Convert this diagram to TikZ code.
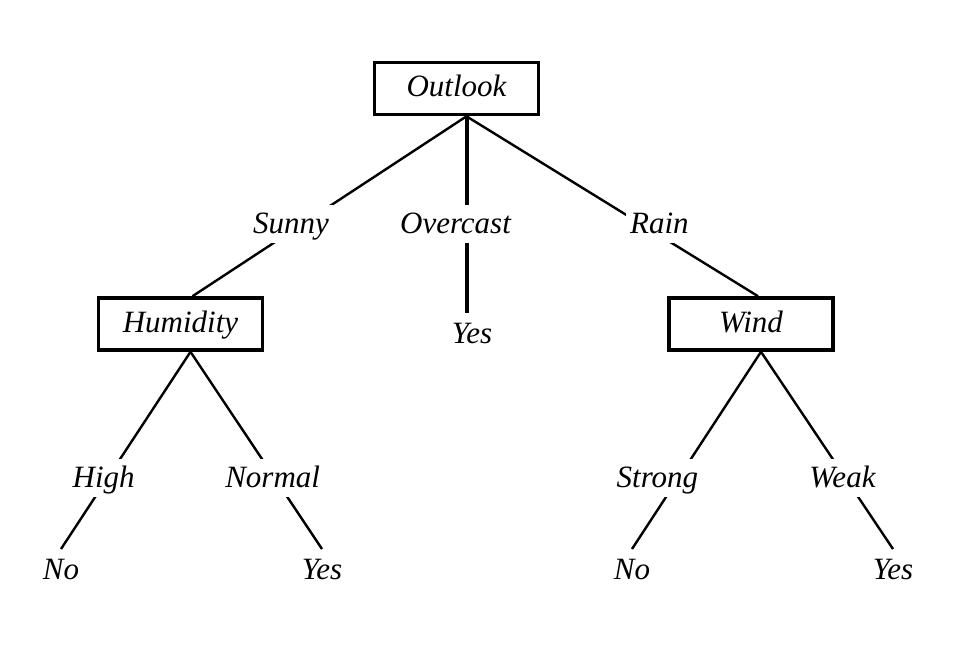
\documentclass[tikz,border=0pt]{standalone}
\usepackage{fontspec}
\setmainfont{Liberation Serif}
\usepackage{tikz}
\tikzstyle{attrbox} = [draw=black, line width=1.8pt, rectangle,
    minimum width=82pt, minimum height=26pt, inner sep=0pt,
    text height=11pt, text depth=3pt]
\tikzstyle{branchlabel} = [fill=white, inner xsep=2pt, inner ysep=2pt,
    text height=12pt, text depth=3pt]
\tikzstyle{leaf} = [anchor=north, inner xsep=2pt, inner ysep=4.5pt,
    text height=10.3pt, text depth=0pt]
\tikzstyle{branch} = [line width=1.2pt]

\begin{document}
\begin{tikzpicture}[x=0.5pt, y=-0.5pt, font=\fontsize{15.5pt}{18pt}\selectfont\itshape]
\useasboundingbox (0,0) rectangle (965,644);
% attributes
\node[attrbox] (outlook) at (456.5,88.5) {Outlook};
\node[attrbox] (humidity) at (180.5,324) {Humidity};
\node[attrbox] (wind) at (751,324) {Wind};
% leaves
\node[leaf] (yesovercast) at (472,313) {Yes};
\node[leaf] (nohigh) at (61,549) {No};
\node[leaf] (yesnormal) at (322,549) {Yes};
\node[leaf] (nostrong) at (632,549) {No};
\node[leaf] (yesweak) at (893,549) {Yes};
% branching points
\coordinate (outlookB) at ([xshift=5pt]outlook.south);
\coordinate (humidityB) at ([xshift=5pt]humidity.south);
\coordinate (windB) at ([xshift=5pt]wind.south);
% branches
\draw[branch] (outlookB) -- node[branchlabel, pos=0.6, xshift=-5.5pt] {Sunny} ([xshift=6pt]humidity.north);
\draw[line width=2pt] (outlookB) -- node[branchlabel, pos=0.55, xshift=-5.5pt] {Overcast} (outlookB |- yesovercast.north);
\draw[branch] (outlookB) -- node[branchlabel, pos=0.6, xshift=9pt] {Rain} ([xshift=3.5pt]wind.north);
\draw[branch] (humidityB) -- node[branchlabel, pos=0.64, xshift=-2pt] {High} (nohigh.north);
\draw[branch] (humidityB) -- node[branchlabel, pos=0.64, xshift=-1pt] {Normal} (yesnormal.north);
\draw[branch] (windB) -- node[branchlabel, pos=0.64, xshift=-10.5pt] {Strong} (nostrong.north);
\draw[branch] (windB) -- node[branchlabel, pos=0.64, xshift=-1.5pt] {Weak} (yesweak.north);
\end{tikzpicture}
\end{document}
